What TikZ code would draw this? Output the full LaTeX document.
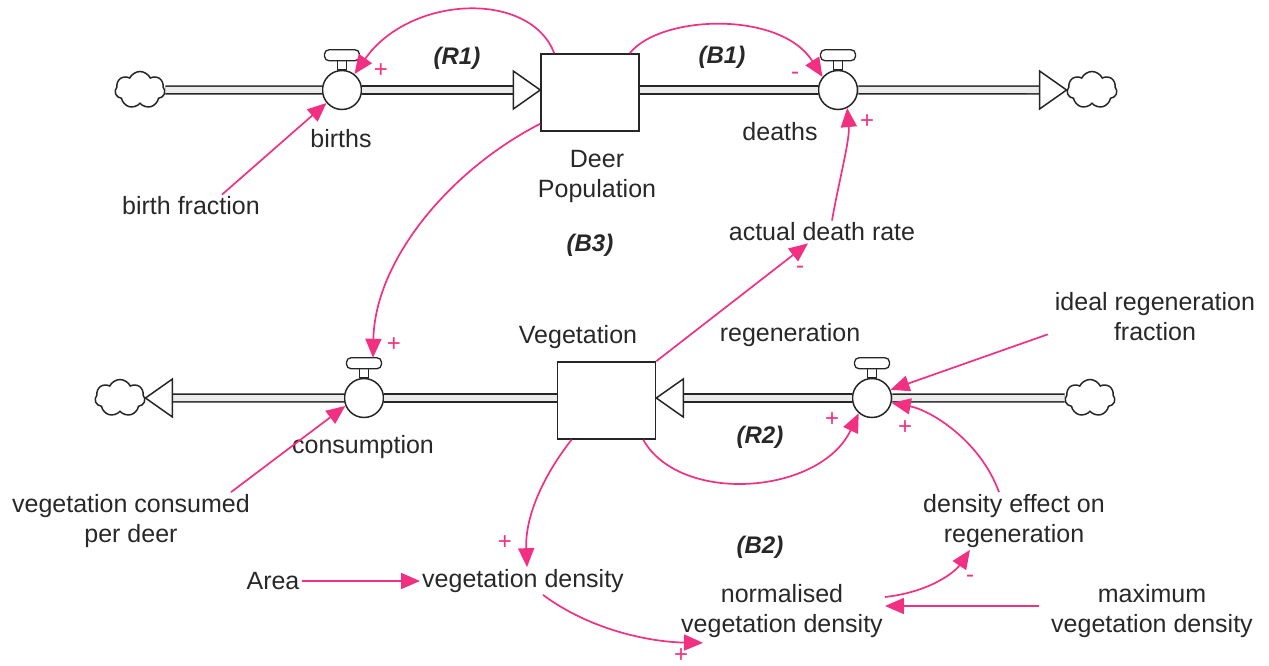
\documentclass[tikz,border=0pt]{standalone}
\usepackage{fontspec}
\setmainfont{Liberation Sans}
\usetikzlibrary{shapes.symbols,arrows.meta,calc}
\definecolor{linkpink}{RGB}{242,48,130}
\definecolor{txt}{RGB}{40,40,40}
\newcommand{\mkvalve}[2]{%
  \node[valvebody] (#1) at (#2) {};
  \draw[valvepart] ([xshift=-4.5pt]#1.north) rectangle ([xshift=4.5pt,yshift=9pt]#1.north);
  \draw[valvepart, rounded corners=4.5pt] ([xshift=-17.5pt,yshift=9pt]#1.north) rectangle ([xshift=17.5pt,yshift=20pt]#1.north);
}
\begin{document}
\begin{tikzpicture}[x=1pt,y=-1pt,
  lbl/.style={font=\fontsize{25}{30}\selectfont, text=txt, align=center, inner sep=2pt},
  loopl/.style={font=\fontsize{24}{24}\selectfont\bfseries\itshape, text=txt},
  pipe/.style={draw=black!85, line width=1.6pt, double=black!8, double distance=6pt},
  stock/.style={draw=black!85, line width=1.5pt, rectangle, minimum width=98pt, minimum height=77pt, fill=white},
  valvebody/.style={draw=black!85, line width=1.5pt, circle, minimum size=39pt, inner sep=0pt, fill=white},
  valvepart/.style={draw=black!85, line width=1.3pt, fill=white},
  cloudn/.style={cloud, cloud puffs=7, cloud puff arc=130, aspect=1.3, draw=black!85, line width=1.5pt, minimum width=50pt, minimum height=37pt, inner sep=0pt},
  flowhead/.style={draw=black!85, line width=1.5pt, fill=white, line join=miter},
  link/.style={draw=linkpink, line width=1.7pt, -{Triangle[length=19pt,width=16pt]}},
  pol/.style={text=linkpink, font=\fontsize{24}{24}\selectfont, inner sep=0pt}
]
\useasboundingbox (0,0) rectangle (1269,666);

% stocks, valves, clouds
\node[cloudn] (cl1) at (140,90) {};
\mkvalve{bv}{342,90}
\node[stock] (deer) at (590,92.5) {};
\mkvalve{dv}{838,90}
\node[cloudn] (cr1) at (1092,90) {};
\node[cloudn] (cl2) at (120,398) {};
\mkvalve{cv}{364,398}
\node[stock] (veg) at (606.5,400.5) {};
\mkvalve{rv}{872,398}
\node[cloudn] (cr2) at (1090,398) {};

\coordinate (deerin) at (deer.west |- bv.east);
\coordinate (deerout) at (deer.east |- dv.west);
\coordinate (vegin) at (veg.east |- rv.west);
\coordinate (vegout) at (veg.west |- cv.east);

% pipes
\draw[pipe] (cl1.east) -- (bv.west);
\draw[pipe] (bv.east) -- ($(deerin)+(-27,0)$);
\draw[flowhead] ($(deerin)+(-27,-19)$) -- (deerin) -- ($(deerin)+(-27,19)$) -- cycle;
\draw[pipe] (deerout) -- (dv.west);
\draw[pipe] (dv.east) -- ($(cr1.west)+(-27,0)$);
\draw[flowhead] ($(cr1.west)+(-27,-19)$) -- (cr1.west) -- ($(cr1.west)+(-27,19)$) -- cycle;
\draw[pipe] (cr2.west) -- (rv.east);
\draw[pipe] (rv.west) -- ($(vegin)+(27,0)$);
\draw[flowhead] ($(vegin)+(27,-19)$) -- (vegin) -- ($(vegin)+(27,19)$) -- cycle;
\draw[pipe] (vegout) -- (cv.east);
\draw[pipe] (cv.west) -- ($(cl2.east)+(27,0)$);
\draw[flowhead] ($(cl2.east)+(27,-19)$) -- (cl2.east) -- ($(cl2.east)+(27,19)$) -- cycle;

% labels
\node[lbl] (births) at (341,139) {births};
\node[lbl] (bf) at (191,206) {birth fraction};
\node[lbl] (deerlbl) at (597,176) {Deer\\Population};
\node[lbl] (deaths) at (780,132) {deaths};
\node[lbl] (adr) at (822,232) {actual death rate};
\node[lbl] (irf) at (1155,317) {ideal regeneration\\fraction};
\node[lbl] (veglbl) at (578,337) {Vegetation};
\node[lbl] (regen) at (790,335) {regeneration};
\node[lbl] (cons) at (363,447) {consumption};
\node[lbl] (vcpd) at (131,521) {vegetation consumed\\per deer};
\node[lbl] (deor) at (1014,521) {density effect on\\regeneration};
\node[lbl] (area) at (273,581) {Area};
\node[lbl] (vd) at (523,581) {vegetation density};
\node[lbl] (nvd) at (782,611) {normalised\\vegetation density};
\node[lbl] (mvd) at (1152,611) {maximum\\vegetation density};

% loop labels
\node[loopl] (lr1) at (457,58) {(R1)};
\node[loopl] (lb1) at (722,57) {(B1)};
\node[loopl] (lb3) at (590,245) {(B3)};
\node[loopl] (lr2) at (760,437) {(R2)};
\node[loopl] (lb2) at (760,547) {(B2)};

% links
\draw[link] ([xshift=31pt]bf.north) -- (bv.220);
\draw[link] ([xshift=14pt]deer.north west) .. controls (530,-10) and (410,-5) .. (bv.52);
\draw[link] ([xshift=-10pt]deer.north east) .. controls (660,15) and (780,10) .. (dv.140);
\draw[link] ([xshift=10pt]adr.north) .. controls (838,185) and (850,140) .. (dv.-63);
\draw[link] ([yshift=8pt]deer.south west) .. controls (450,170) and (375,260) .. ([xshift=9pt,yshift=20pt]cv.north);
\draw[link] ([xshift=100pt]vcpd.north) -- (cv.203);
\draw[link] (veg.north east) -- ([xshift=-14pt]adr.south);
\draw[link] ([xshift=-5pt,yshift=9pt]irf.south west) -- (rv.24);
\draw[link] ([xshift=-13pt]veg.south east) .. controls (680,505) and (820,495) .. (rv.229);
\draw[link] ([xshift=-15pt]deor.north) .. controls (980,440) and (930,410) .. (rv.-14);
\draw[link] ([xshift=-35pt]veg.south) .. controls (540,480) and (525,520) .. ([xshift=4pt]vd.north);
\draw[link] (area.east) -- (vd.west);
\draw[link] ([xshift=20pt]vd.south) .. controls (590,630) and (650,642) .. ([xshift=24pt,yshift=-3pt]nvd.south west);
\draw[link] ([xshift=-10pt,yshift=5pt]mvd.west) -- ([yshift=5pt]nvd.east);
\draw[link] ([yshift=14pt]nvd.east) .. controls (930,592) and (955,572) .. ([xshift=-44pt]deor.south);

% polarities
\node[pol] (p1) at (381,71) {+};
\node[pol] (p2) at (795,76) {-};
\node[pol] (p3) at (867,122) {+};
\node[pol] (p4) at (800,270) {-};
\node[pol] (p5) at (394,345) {+};
\node[pol] (p6) at (832,420) {+};
\node[pol] (p7) at (905,428) {+};
\node[pol] (p8) at (505,543) {+};
\node[pol] (p9) at (681,656) {+};
\node[pol] (p10) at (970,579) {-};
\end{tikzpicture}
\end{document}
